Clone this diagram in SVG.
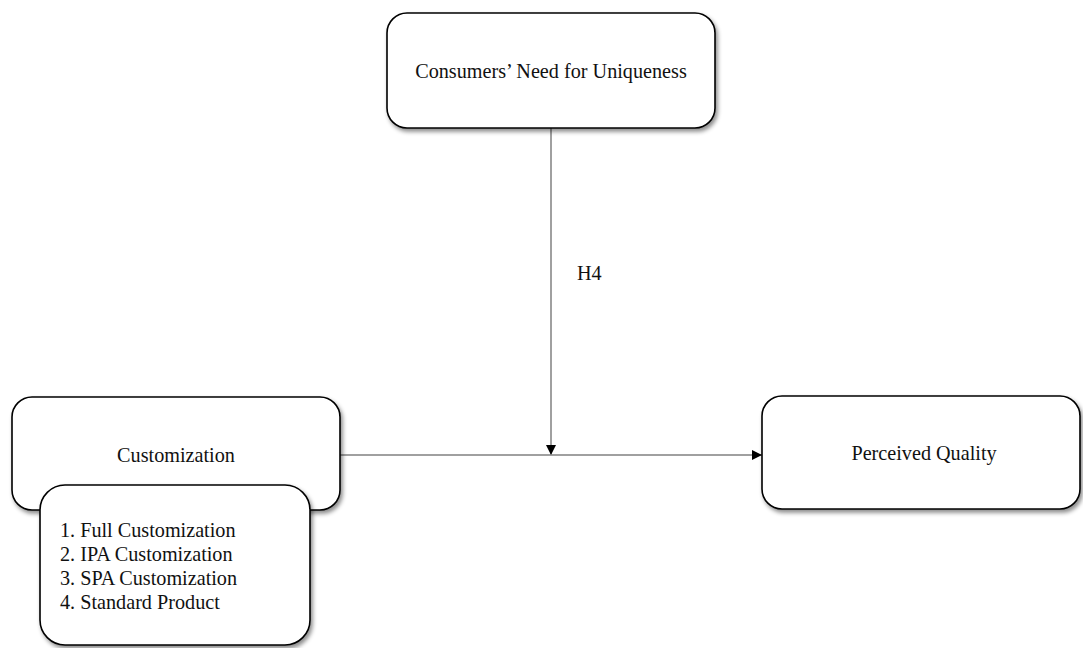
<svg xmlns="http://www.w3.org/2000/svg" width="1083" height="648" viewBox="0 0 1083 648">
  <defs>
    <filter id="shadow" x="-10%" y="-10%" width="130%" height="130%">
      <feDropShadow dx="2" dy="3" stdDeviation="2" flood-color="#000" flood-opacity="0.45"/>
    </filter>
    <marker id="arrow" viewBox="0 0 10 10" refX="10" refY="5" markerWidth="10" markerHeight="10" markerUnits="userSpaceOnUse" orient="auto">
      <path d="M0,0 L10,5 L0,10 z" fill="#000"/>
    </marker>
  </defs>
  <style>
    .box { fill: #fff; stroke: #000; stroke-width: 1.6; filter: url(#shadow); }
    .lbl { font-family: "Liberation Serif", "Times New Roman", serif; font-size: 20.2px; fill: #111; }
    .mid { text-anchor: middle; }
    .conn { stroke: #808080; stroke-width: 1.5; fill: none; }
  </style>
  <rect x="0" y="0" width="1083" height="648" fill="#fff"/>

  <g id="connectors">
    <line class="conn" x1="551" y1="128" x2="551" y2="455" marker-end="url(#arrow)"/>
    <line class="conn" x1="340" y1="455" x2="762" y2="455" marker-end="url(#arrow)"/>
    <text class="lbl" x="577" y="280">H4</text>
  </g>

  <g id="node-uniqueness">
    <rect class="box" x="387" y="13" width="328" height="115" rx="20" ry="20"/>
    <text class="lbl mid" x="551" y="78">Consumers’ Need for Uniqueness</text>
  </g>

  <g id="node-customization">
    <rect class="box" x="12" y="397" width="328" height="113" rx="20" ry="20"/>
    <text class="lbl mid" x="176" y="462">Customization</text>
  </g>

  <g id="node-levels">
    <rect class="box" x="40" y="485" width="270" height="160" rx="25" ry="25"/>
    <text class="lbl" x="60" y="537">1. Full Customization</text>
    <text class="lbl" x="60" y="561">2. IPA Customization</text>
    <text class="lbl" x="60" y="585">3. SPA Customization</text>
    <text class="lbl" x="60" y="609">4. Standard Product</text>
  </g>

  <g id="node-quality">
    <rect class="box" x="762" y="396" width="318" height="113" rx="20" ry="20"/>
    <text class="lbl mid" x="924" y="460">Perceived Quality</text>
  </g>
</svg>
